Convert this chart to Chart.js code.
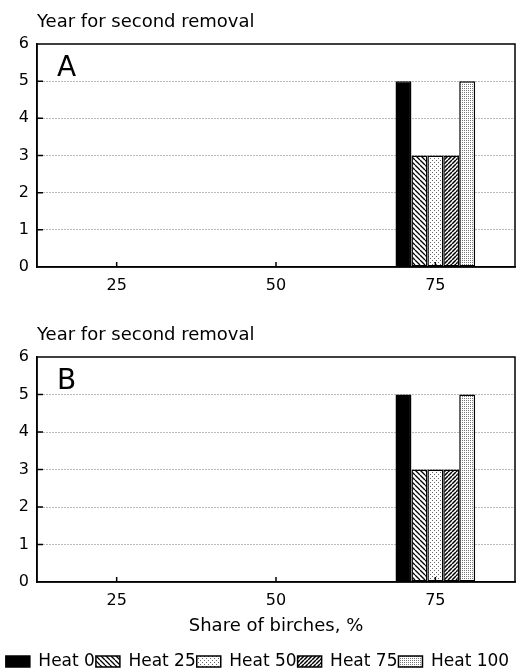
<!DOCTYPE html>
<html>
<head>
<meta charset="utf-8">
<script src="https://cdn.jsdelivr.net/npm/chart.js@4"></script>
<style>
body { margin: 0; background: #fff; overflow: hidden; }
canvas { position: absolute; left: 0; }
#chartA { top: 0; }
#chartB { top: 300px; }
</style>
</head>
<body>
<canvas id="chartA" width="526" height="300"></canvas>
<canvas id="chartB" width="526" height="380"></canvas>
<script>
// share of birches (%), categories on x
var shares = ['25', '50', '75'];
var heatLabels = ['Heat 0', 'Heat 25', 'Heat 50', 'Heat 75', 'Heat 100'];

// panel A, year for second removal
var heat0A = [null, null, 5];
var heat25A = [null, null, 3];
var heat50A = [null, null, 3];
var heat75A = [null, null, 3];
var heat100A = [null, null, 5];

// panel B
var heat0B = [null, null, 5];
var heat25B = [null, null, 3];
var heat50B = [null, null, 3];
var heat75B = [null, null, 3];
var heat100B = [null, null, 5];

Chart.defaults.font.family = '"DejaVu Sans", sans-serif';
Chart.defaults.color = '#000';

function makePattern(kind) {
    var c = document.createElement('canvas');
    var s = kind == 'back' ? 5 : (kind == 'fwd' ? 4 : (kind == 'dots' ? 4 : 2));
    c.width = s; c.height = s;
    var g = c.getContext('2d');
    g.fillStyle = '#fff';
    g.fillRect(0, 0, s, s);
    if (kind == 'solid') {
        g.fillStyle = '#000';
        g.fillRect(0, 0, s, s);
    } else if (kind == 'back' || kind == 'fwd') {
        g.strokeStyle = '#000';
        g.lineWidth = kind == 'back' ? 1.3 : 1.5;
        g.beginPath();
        for (var k = -1; k <= 1; k++) {
            if (kind == 'back') { g.moveTo(k * s, 0); g.lineTo(k * s + s, s); }
            else { g.moveTo(k * s, s); g.lineTo(k * s + s, 0); }
        }
        g.stroke();
    } else if (kind == 'dots') {
        g.fillStyle = '#666';
        g.fillRect(0, 0, 1, 1);
        g.fillRect(2, 2, 1, 1);
    } else {
        g.fillStyle = '#777';
        g.fillRect(0, 0, 1, 1);
    }
    return g.createPattern(c, 'repeat');
}

var fills = [makePattern('solid'), makePattern('back'), makePattern('dots'), makePattern('fwd'), makePattern('fine')];

function buildDatasets(series) {
    return series.map(function(values, i) {
        return {
            label: heatLabels[i],
            data: values,
            backgroundColor: fills[i],
            borderColor: '#000',
            borderWidth: 1.5,
            borderSkipped: false
        };
    });
}

var framePlugin = {
    id: 'frame',
    afterDraw: function(chart, args, opts) {
        var ctx = chart.ctx, a = chart.chartArea;
        var xs = chart.scales.x, ys = chart.scales.y;
        ctx.save();
        ctx.strokeStyle = '#000';
        ctx.lineWidth = 1.5;
        ctx.strokeRect(a.left, a.top, a.right - a.left, a.bottom - a.top);
        ctx.beginPath();
        for (var i = 0; i < xs.ticks.length; i++) {
            var px = xs.getPixelForTick(i);
            ctx.moveTo(px, a.bottom);
            ctx.lineTo(px, a.bottom - 5);
        }
        for (var j = 1; j < ys.ticks.length - 1; j++) {
            var py = ys.getPixelForTick(j);
            ctx.moveTo(a.left, py);
            ctx.lineTo(a.left + 6, py);
        }
        ctx.stroke();
        ctx.fillStyle = '#000';
        ctx.textAlign = 'left';
        ctx.textBaseline = 'alphabetic';
        ctx.font = '18px "DejaVu Sans"';
        ctx.fillText(opts.header, a.left, a.top - 17);
        ctx.font = '28px "DejaVu Sans"';
        ctx.fillText(opts.letter, a.left + 20, a.top + 32);
        ctx.restore();
    }
};

function createConfig(series, letter, bottomPanel) {
    return {
        type: 'bar',
        data: { labels: shares, datasets: buildDatasets(series) },
        plugins: [framePlugin],
        options: {
            responsive: false,
            animation: false,
            categoryPercentage: 0.5,
            barPercentage: 1,
            layout: { padding: { top: bottomPanel ? 57 : 44, right: 11, left: 0, bottom: 0 } },
            plugins: {
                frame: { header: 'Year for second removal', letter: letter },
                tooltip: { enabled: false },
                legend: {
                    display: bottomPanel,
                    position: 'bottom',
                    labels: { boxWidth: 24, boxHeight: 11, padding: 1, font: { size: 17 }, color: '#000' }
                }
            },
            scales: {
                x: {
                    grid: { display: false, drawTicks: false },
                    border: { color: '#000', width: 1.5 },
                    ticks: { font: { size: 16 }, padding: 9 },
                    title: {
                        display: bottomPanel,
                        text: 'Share of birches, %',
                        font: { size: 18 },
                        padding: { top: 2, bottom: 15 }
                    },
                    afterFit: function(scale) {
                        if (!bottomPanel) scale.height = 33;
                        else scale.height = scale.chart.height - 282 - scale.chart.legend.height;
                    }
                },
                y: {
                    min: 0, max: 6,
                    ticks: { stepSize: 1, font: { size: 16 }, padding: 8 },
                    grid: {
                        drawTicks: false,
                        color: function(c) { return (c.index == 0 || c.index == 6) ? 'rgba(0,0,0,0)' : '#777'; }
                    },
                    border: { color: '#000', width: 1.5, dash: [1, 2] },
                    afterFit: function(scale) { scale.width = 37; }
                }
            }
        }
    };
}

new Chart(document.getElementById('chartA').getContext('2d'),
    createConfig([heat0A, heat25A, heat50A, heat75A, heat100A], 'A', false));
new Chart(document.getElementById('chartB').getContext('2d'),
    createConfig([heat0B, heat25B, heat50B, heat75B, heat100B], 'B', true));
</script>
</body>
</html>
